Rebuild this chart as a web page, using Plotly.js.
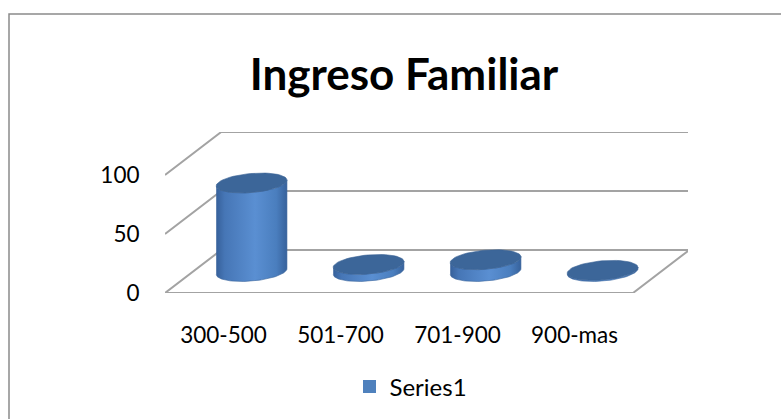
<!DOCTYPE html>
<html><head><meta charset="utf-8">
<script src="https://cdn.plot.ly/plotly-3.0.1.min.js"></script>
<style>html,body{margin:0;padding:0;background:#fff}#c{width:781px;height:419px}</style>
</head><body><div id="c"></div>
<script>
const categories = ['300-500', '501-700', '701-900', '900-mas'];
const values = [75, 6, 10, 1];
const yTickVals = [0, 50, 100];
const seriesName = 'Series1';
const chartTitle = 'Ingreso Familiar';

const W = 781, H = 419;
const M = {l: 165, r: 93, t: 132, b: 126};
const X_RANGE = [-0.5, 3.97], Y_RANGE = [0, 136.4];
const pxX = (W - M.l - M.r) / (X_RANGE[1] - X_RANGE[0]);
const pxY = (H - M.t - M.b) / (Y_RANGE[1] - Y_RANGE[0]);
const DX = 0.48, DY = 36.4;          // depth offset of back wall (axis units)
const GRID = {color: '#a3a3a3', width: 2};
const FONT = 'Lato, "Open Sans", sans-serif';

const traces = [];

// gridlines: left side wall obliques + back wall horizontals
const gx = [], gy = [];
yTickVals.forEach(v => {
  gx.push(-0.5, -0.5 + DX, 3.5 + DX, null);
  gy.push(v, v + DY, v + DY, null);
});
// floor front edge and right edge
gx.push(-0.5, 3.5, 3.5 + DX, null);
gy.push(0, 0, DY, null);
traces.push({type: 'scatter', mode: 'lines', x: gx, y: gy, line: GRID,
  hoverinfo: 'skip', showlegend: false, cliponaxis: false});

// cylinders
const A = 35.5, B = 9.5, PHI = 5 * Math.PI / 180;
function ell(cx, cy, t) {
  const ex = A * Math.cos(t) * Math.cos(PHI) - B * Math.sin(t) * Math.sin(PHI);
  const ey = A * Math.cos(t) * Math.sin(PHI) + B * Math.sin(t) * Math.cos(PHI);
  return [cx + ex / pxX, cy + ey / pxY];
}
const N = 60;
categories.forEach((c, i) => {
  const cx = i + DX / 2, y0 = DY / 2, y1 = DY / 2 + values[i];
  const bx = [], by = [];
  for (let k = 0; k <= N; k++) { const p = ell(cx, y0, Math.PI + Math.PI * k / N); bx.push(p[0]); by.push(p[1]); }
  for (let k = 0; k <= N; k++) { const p = ell(cx, y1, 2 * Math.PI - Math.PI * k / N); bx.push(p[0]); by.push(p[1]); }
  traces.push({type: 'scatter', mode: 'lines', x: bx, y: by, fill: 'toself',
    line: {width: 0.6, color: '#3d679c'},
    fillgradient: {type: 'horizontal', colorscale: [[0, '#36609a'], [0.12, '#4676b6'], [0.55, '#5a8fd2'], [0.85, '#4a7ebe'], [1, '#37629c']]},
    hoverinfo: 'skip', showlegend: false});
  const tx = [], ty = [];
  for (let k = 0; k <= N; k++) { const p = ell(cx, y1, 2 * Math.PI * k / N); tx.push(p[0]); ty.push(p[1]); }
  traces.push({type: 'scatter', mode: 'lines', x: tx, y: ty, fill: 'toself',
    line: {width: 0.6, color: '#3a6396'}, fillcolor: '#3c6699',
    hoverinfo: 'skip', showlegend: false});
});

// legend entry
traces.push({type: 'scatter', mode: 'markers', x: [null], y: [null], name: seriesName,
  marker: {symbol: 'square', size: 13, color: '#4f81bd'}, showlegend: true, hoverinfo: 'skip'});

const py = p => (H - M.b - p) / (H - M.t - M.b);
const pxp = p => (p - M.l) / (W - M.l - M.r);

const layout = {
  width: W, height: H, margin: M,
  paper_bgcolor: '#fff', plot_bgcolor: 'rgba(0,0,0,0)',
  hovermode: false,
  font: {family: FONT, color: '#000'},
  title: {text: chartTitle, font: {family: FONT, size: 44, weight: 700, color: '#000'},
    xref: 'container', yref: 'container', x: 404 / W, xanchor: 'center', y: 1 - 75 / H, yanchor: 'middle'},
  xaxis: {range: X_RANGE, tickvals: categories.map((c, i) => i), ticktext: categories,
    showgrid: false, zeroline: false, showline: false, ticks: 'outside', ticklen: 22,
    tickcolor: 'rgba(0,0,0,0)', tickfont: {size: 22.5, family: FONT, color: '#000'}, fixedrange: true},
  yaxis: {range: Y_RANGE, tickvals: yTickVals, showgrid: false, zeroline: false, showline: false,
    ticks: 'outside', ticklen: 20, tickcolor: 'rgba(0,0,0,0)',
    tickfont: {size: 22.5, family: FONT, color: '#000'}, fixedrange: true},
  showlegend: true,
  legend: {orientation: 'h', xref: 'container', yref: 'container', x: 411 / W, xanchor: 'center',
    y: 1 - 387 / H, yanchor: 'middle', font: {size: 24, family: FONT, color: '#000'}, bgcolor: 'rgba(0,0,0,0)'},
  shapes: [{type: 'rect', xref: 'paper', yref: 'paper', x0: pxp(9), x1: pxp(800), y0: py(440), y1: py(14),
    line: {color: '#8a8a8a', width: 1.5}, fillcolor: 'rgba(0,0,0,0)'}]
};
Plotly.newPlot('c', traces, layout, {staticPlot: true, displayModeBar: false});
</script></body></html>
